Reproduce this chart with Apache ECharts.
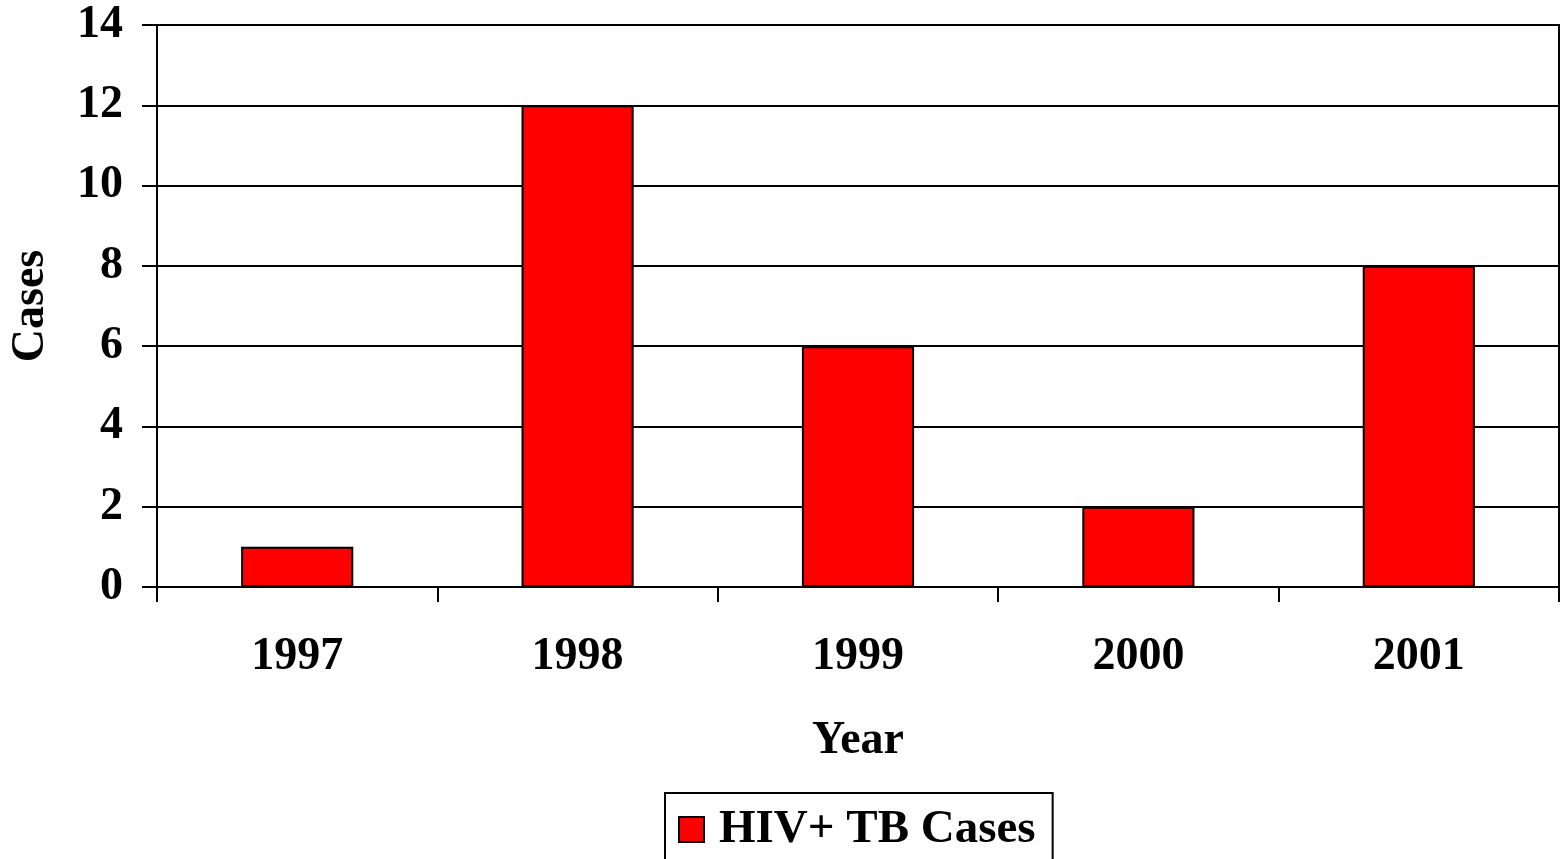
<!DOCTYPE html>
<html>
<head>
<meta charset="utf-8">
<script src="https://cdn.jsdelivr.net/npm/echarts@6/dist/echarts.min.js"></script>
<style>
  html, body { margin: 0; padding: 0; background: #fff; }
  #chart { width: 1561px; height: 859px; }
</style>
</head>
<body>
<div id="chart"></div>
<script>
const years = ["1997", "1998", "1999", "2000", "2001"]
const cases = [1, 12, 6, 2, 8]
const yTicks = { min: 0, max: 14, interval: 2 }

const font = "'Liberation Serif', 'Times New Roman', serif"
const chart = echarts.init(document.getElementById("chart"))

chart.setOption({
  animation: false,
  textStyle: { fontFamily: font, fontWeight: "bold", color: "#000" },
  grid: {
    left: 157, right: 2, top: 25, bottom: 272,
    outerBoundsMode: "none", containLabel: false,
    show: true, borderColor: "#000", borderWidth: 2
  },
  legend: {
    left: 665, top: 793,
    padding: [13, 17, 14, 13],
    borderColor: "#000", borderWidth: 2,
    icon: "rect",
    itemWidth: 25, itemHeight: 25,
    textStyle: { fontFamily: font, fontWeight: "bold", fontSize: 47, color: "#000", padding: [0, 0, 0, 10] },
    data: ["HIV+ TB Cases"]
  },
  xAxis: {
    type: "category",
    data: years,
    name: "Year",
    nameLocation: "middle",
    nameGap: 131,
    nameTextStyle: { fontFamily: font, fontWeight: "bold", fontSize: 46, color: "#000" },
    axisLine: { lineStyle: { color: "#000", width: 2 } },
    axisTick: { show: true, length: 15, lineStyle: { color: "#000", width: 2 } },
    axisLabel: { fontFamily: font, fontWeight: "bold", fontSize: 46, color: "#000", margin: 47 }
  },
  yAxis: {
    type: "value",
    min: yTicks.min, max: yTicks.max, interval: yTicks.interval,
    name: "Cases",
    nameLocation: "middle",
    nameGap: 103,
    nameTextStyle: { fontFamily: font, fontWeight: "bold", fontSize: 46, color: "#000" },
    axisLine: { show: true, lineStyle: { color: "#000", width: 2 } },
    axisTick: { show: true, length: 15, lineStyle: { color: "#000", width: 2 } },
    axisLabel: { fontFamily: font, fontWeight: "bold", fontSize: 46, color: "#000", margin: 34 },
    splitLine: { show: true, lineStyle: { color: "#000", width: 2 } }
  },
  series: [{
    name: "HIV+ TB Cases",
    type: "bar",
    data: cases,
    barWidth: "40%",
    itemStyle: { color: "#ff0000", borderColor: "#000", borderWidth: 2 }
  }]
})
</script>
</body>
</html>
